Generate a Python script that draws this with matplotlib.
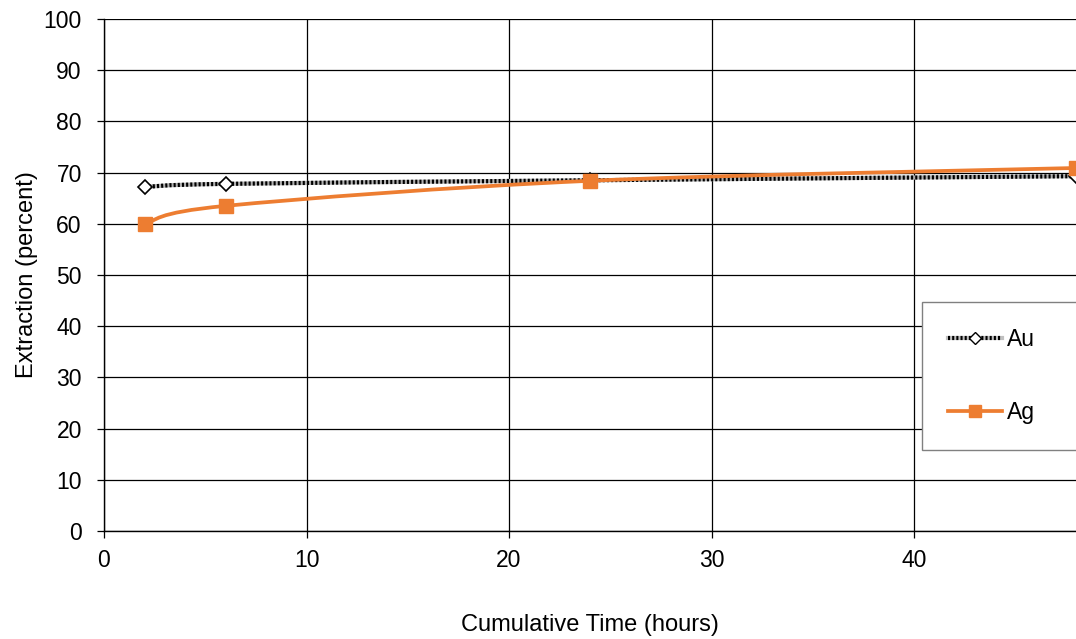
import numpy as np
import matplotlib.pyplot as plt
from matplotlib.path import Path
from matplotlib.patches import PathPatch
from matplotlib.lines import Line2D

plt.rcParams['font.family'] = ['Liberation Sans', 'DejaVu Sans']

# Data
hours = [2, 6, 24, 48]
au = [67.2, 67.8, 68.5, 69.3]
ag = [60.0, 63.5, 68.4, 70.9]

ag_color = '#ED7D31'


# Excel-style smoothed line as cubic bezier path through the points
def smooth_path(x, y):
    pts = np.column_stack([x, y]).astype(float)
    verts = [pts[0]]
    codes = [Path.MOVETO]
    n = len(pts)
    for i in range(n - 1):
        p0 = pts[max(i - 1, 0)]
        p1 = pts[i]
        p2 = pts[i + 1]
        p3 = pts[min(i + 2, n - 1)]
        c1 = p1 + (p2 - p0) / 6.0
        c2 = p2 - (p3 - p1) / 6.0
        verts += [c1, c2, p2]
        codes += [Path.CURVE4] * 3
    return Path(verts, codes)


fig = plt.figure(figsize=(10.76, 6.39), dpi=100)
ax = fig.add_axes([104 / 1076, (639 - 531) / 639, 972 / 1076, 512 / 639])

ax.set_xlim(0, 48)
ax.set_ylim(0, 100)
ax.set_xticks([0, 10, 20, 30, 40])
ax.set_yticks(np.arange(0, 101, 10))
ax.grid(True, color='black', linewidth=0.9)
ax.set_axisbelow(True)
for s in ['top', 'right']:
    ax.spines[s].set_visible(False)
for s in ['left', 'bottom']:
    ax.spines[s].set_linewidth(1.0)
ax.tick_params(labelsize=16.5, length=5, width=0.9, direction='out')
ax.tick_params(axis='x', pad=8)
ax.tick_params(axis='y', pad=11)

# Au: checkered line (grey under black dots)
au_path = smooth_path(hours, au)
ax.add_patch(PathPatch(au_path, facecolor='none', edgecolor='#b0b0b0', lw=3.0, zorder=3))
ax.add_patch(PathPatch(au_path, facecolor='none', edgecolor='black', lw=3.0,
                       linestyle=(0, (0.5, 0.5)), zorder=3))
ax.plot(hours, au, linestyle='none', marker='D', markersize=7, markerfacecolor='white',
        markeredgecolor='black', markeredgewidth=1.2, zorder=4)

# Ag
ax.add_patch(PathPatch(smooth_path(hours, ag), facecolor='none', edgecolor=ag_color,
                       lw=2.7, zorder=5))
ax.plot(hours, ag, linestyle='none', marker='s', markersize=10, color=ag_color, zorder=6)

ax.set_xlabel('Cumulative Time (hours)', fontsize=17, labelpad=30)
ax.set_ylabel('Extraction (percent)', fontsize=17, labelpad=4)

h_au = (Line2D([], [], color='#c0c0c0', lw=3),
        Line2D([], [], color='black', lw=3, linestyle=(0, (0.5, 0.5)), marker='D',
               markersize=6, markerfacecolor='white', markeredgecolor='black'))
h_ag = Line2D([], [], color=ag_color, lw=2.7, marker='s', markersize=9)
leg = ax.legend([h_au, h_ag], ['Au', 'Ag'], loc='upper left', mode='expand',
                bbox_to_anchor=(0.8416, 0.166, 0.16, 0.281), fontsize=16.5, frameon=True,
                fancybox=False, edgecolor='#808080', framealpha=1,
                labelspacing=2.15, handlelength=2.35, handletextpad=0.2,
                borderpad=1.15, borderaxespad=0)
leg.get_frame().set_linewidth(1.0)

fig.savefig('out.png', dpi=100)
